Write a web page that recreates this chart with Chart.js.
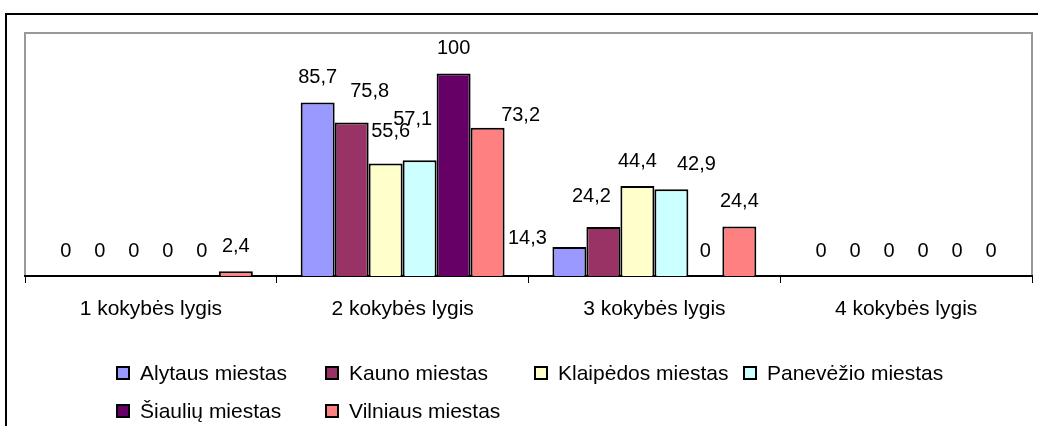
<!DOCTYPE html>
<html>
<head>
<meta charset="utf-8">
<script src="https://cdn.jsdelivr.net/npm/chart.js@4.4.1/dist/chart.umd.min.js"></script>
<style>
  html, body { margin: 0; padding: 0; background: #fff; }
  #wrap { position: relative; width: 1038px; height: 426px; overflow: hidden; }
  #chart { position: absolute; left: 0; top: 0; }
  #legend {
    position: absolute; left: 116px; top: 354px;
    display: grid; grid-template-columns: repeat(4, 209px); grid-auto-rows: 38px;
    font-family: "Liberation Sans", Arial, sans-serif; font-size: 21px; color: #000;
  }
  #legend .item { display: flex; align-items: center; white-space: nowrap; }
  #legend .box { width: 14px; height: 14px; box-sizing: border-box; border: 2px solid #000; margin-right: 10px; }
</style>
</head>
<body>
<div id="wrap">
  <canvas id="chart" width="1038" height="426"></canvas>
  <div id="legend"></div>
</div>
<script>
// kategorijos ir reikšmės
const categories = ['1 kokybės lygis', '2 kokybės lygis', '3 kokybės lygis', '4 kokybės lygis'];
const cities = ['Alytaus miestas', 'Kauno miestas', 'Klaipėdos miestas', 'Panevėžio miestas', 'Šiaulių miestas', 'Vilniaus miestas'];
const alytus = [0, 85.7, 14.3, 0];
const kaunas = [0, 75.8, 24.2, 0];
const klaipeda = [0, 55.6, 44.4, 0];
const panevezys = [0, 57.1, 42.9, 0];
const siauliai = [0, 100, 0, 0];
const vilnius = [2.4, 73.2, 24.4, 0];
const seriesValues = [alytus, kaunas, klaipeda, panevezys, siauliai, vilnius];
const colors = ['#9999FF', '#993366', '#FFFFCC', '#CCFFFF', '#660066', '#FF8080'];

// Excel pastūmė kai kurias etiketes, kad nepersidengtų
const labelShift = {
    '1:1': [18, -6], '2:1': [5, -7], '3:1': [-7, -16], '5:1': [33, 13],
    '0:2': [-42, 16], '1:2': [-12, -6], '3:2': [25, 0]
};

// rėmeliai: išorinis juodas ir pilkas braižymo srities
const framePlugin = {
    id: 'frame',
    beforeDraw(chart) {
        const ctx = chart.ctx;
        const a = chart.chartArea;
        ctx.save();
        ctx.strokeStyle = '#000';
        ctx.lineWidth = 2;
        ctx.strokeRect(6, 14, 1100, 1000);
        ctx.strokeStyle = '#999';
        ctx.strokeRect(a.left, a.top, a.right - a.left, a.bottom - a.top);
        ctx.restore();
    }
};

const valueLabels = {
    id: 'valueLabels',
    afterDatasetsDraw(chart) {
        const ctx = chart.ctx;
        ctx.save();
        ctx.font = '20px "Liberation Sans", Arial, sans-serif';
        ctx.fillStyle = '#000';
        ctx.textAlign = 'center';
        ctx.textBaseline = 'middle';
        chart.data.datasets.forEach((ds, i) => {
            chart.getDatasetMeta(i).data.forEach((bar, j) => {
                const shift = labelShift[i + ':' + j] || [0, 0];
                const txt = String(ds.data[j]).replace('.', ',');
                ctx.fillText(txt, bar.x + shift[0], bar.y - 25 + shift[1]);
            });
        });
        ctx.restore();
    }
};

const chart = new Chart(document.getElementById('chart'), {
    type: 'bar',
    data: {
        labels: categories,
        datasets: cities.map((name, i) => ({
            label: name,
            data: seriesValues[i],
            backgroundColor: colors[i],
            borderColor: '#000',
            borderWidth: 2,
            borderSkipped: 'bottom',
            categoryPercentage: 0.81,
            barPercentage: 1
        }))
    },
    options: {
        responsive: false,
        animation: false,
        layout: { padding: { left: 25, top: 33, right: 6, bottom: 0 } },
        plugins: { legend: { display: false }, tooltip: { enabled: false } },
        scales: {
            y: { display: false, min: 0, max: 120 },
            x: {
                afterFit(scale) { scale.height = 150; },
                border: { color: '#000', width: 2 },
                grid: { offset: true, drawOnChartArea: false, color: '#000', tickLength: 7, lineWidth: 1 },
                ticks: {
                    color: '#000', padding: 14,
                    font: { family: '"Liberation Sans", Arial, sans-serif', size: 21 }
                }
            }
        }
    },
    plugins: [framePlugin, valueLabels]
});

// legenda – fiksuoto pločio stulpeliai kaip Excel
const legend = document.getElementById('legend');
chart.data.datasets.forEach(ds => {
    const item = document.createElement('div');
    item.className = 'item';
    item.innerHTML = `<span class="box" style="background:${ds.backgroundColor}"></span><span>${ds.label}</span>`;
    legend.appendChild(item);
});
</script>
</body>
</html>
